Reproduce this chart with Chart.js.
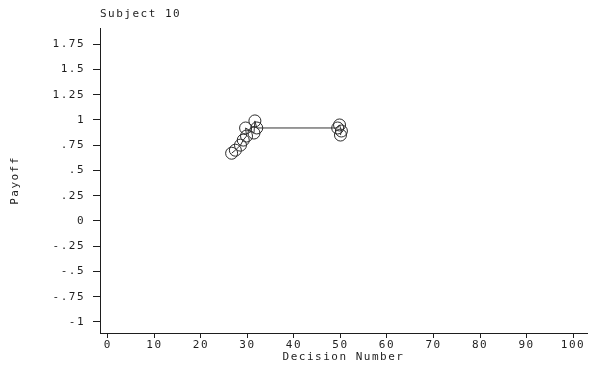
<!DOCTYPE html>
<html>
<head>
<meta charset="utf-8">
<script src="https://cdn.jsdelivr.net/npm/chart.js@4"></script>
<style>
  html, body { margin: 0; padding: 0; background: #fff; }
  #wrap { width: 594px; height: 372px; }
</style>
</head>
<body>
<div id="wrap"><canvas id="payoffChart"></canvas></div>
<script>
// values
const decision = [26.6, 27.4, 28.5, 29.1, 29.8, 29.6, 31.4, 31.6, 32.0, 49.4, 49.8, 50.2, 50.0];
const payoff   = [0.67, 0.70, 0.75, 0.80, 0.84, 0.92, 0.87, 0.99, 0.92, 0.92, 0.95, 0.89, 0.85];

const xTicks = [0, 10, 20, 30, 40, 50, 60, 70, 80, 90, 100];
const yTicks = [1.75, 1.5, 1.25, 1, 0.75, 0.5, 0.25, 0, -0.25, -0.5, -0.75, -1];
const yTickLabels = ['1.75', '1.5', '1.25', '1', '.75', '.5', '.25', '0', '-.25', '-.5', '-.75', '-1'];

const chartTitle = 'Subject 10';
const xTitle = 'Decision Number';
const yTitle = 'Payoff';

const ink = '#1e1e1e';
const monoFont = { family: 'DejaVu Sans Mono', size: 11 };

// typewriter look: spaced letters, plus title at the top left of the plot
const plotterText = {
    id: 'plotterText',
    beforeDraw(chart) {
        chart.ctx.letterSpacing = '1.5px';
    },
    afterDraw(chart) {
        const ctx = chart.ctx;
        ctx.save();
        ctx.font = '11px "DejaVu Sans Mono"';
        ctx.fillStyle = ink;
        ctx.textBaseline = 'middle';
        ctx.textAlign = 'left';
        ctx.fillText(chartTitle, chart.chartArea.left, 14);
        ctx.restore();
    }
};

const pts = decision.map((d, i) => ({ x: d, y: payoff[i] }));

new Chart(document.getElementById('payoffChart').getContext('2d'), {
    type: 'scatter',
    data: {
        datasets: [{
            data: pts,
            showLine: true,
            borderColor: '#333',
            borderWidth: 1,
            pointRadius: 6,
            pointHoverRadius: 6,
            pointBorderWidth: 1,
            pointBorderColor: '#2a2a2a',
            pointBackgroundColor: 'rgba(0,0,0,0)'
        }]
    },
    options: {
        responsive: true,
        maintainAspectRatio: false,
        animation: false,
        layout: { padding: { top: 28, right: 2, left: 0, bottom: 0 } },
        plugins: {
            legend: { display: false },
            tooltip: { enabled: false }
        },
        scales: {
            x: {
                type: 'linear',
                min: -1.7,
                max: 103,
                afterBuildTicks: s => { s.ticks = xTicks.map(v => ({ value: v })); },
                afterFit: s => { s.height = 39; },
                grid: { drawOnChartArea: false, drawTicks: true, tickLength: 5, color: ink },
                border: { display: true, color: ink, width: 1 },
                ticks: { color: ink, font: monoFont, padding: 1, maxRotation: 0, autoSkip: false },
                title: { display: true, text: xTitle, color: ink, font: monoFont, padding: { top: 0, bottom: 8 } }
            },
            y: {
                type: 'linear',
                min: -1.11,
                max: 1.91,
                afterBuildTicks: s => { s.ticks = yTicks.map(v => ({ value: v })); },
                afterFit: s => { s.width = 100; },
                grid: { drawOnChartArea: false, drawTicks: true, tickLength: 7, color: ink },
                border: { display: true, color: ink, width: 1 },
                ticks: {
                    color: ink,
                    font: monoFont,
                    padding: 8,
                    autoSkip: false,
                    callback: v => {
                        const i = yTicks.indexOf(v);
                        return i >= 0 ? yTickLabels[i] : '';
                    }
                },
                title: { display: true, text: yTitle, color: ink, font: monoFont, padding: { top: 9, bottom: 0 } }
            }
        }
    },
    plugins: [plotterText]
});
</script>
</body>
</html>
